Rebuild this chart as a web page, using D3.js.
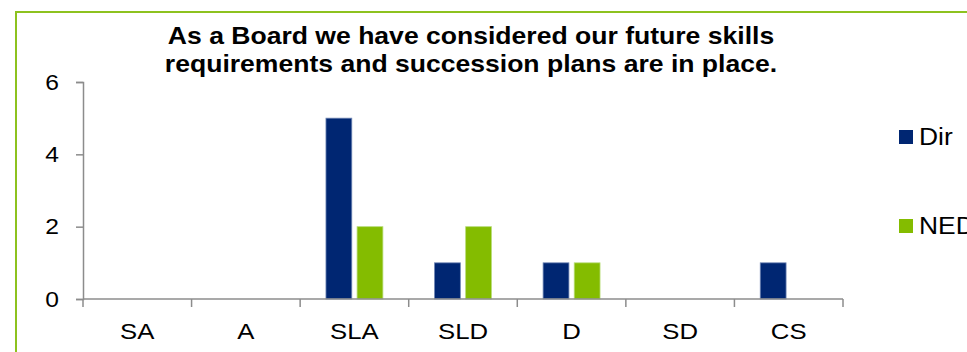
<!DOCTYPE html>
<html>
<head>
<meta charset="utf-8">
<script src="https://cdn.jsdelivr.net/npm/d3@7"></script>
<style>
  html, body { margin: 0; padding: 0; background: #fff; overflow: hidden; }
  svg { display: block; font-family: "Liberation Sans", Arial, sans-serif; }
</style>
</head>
<body>
<svg id="chart" width="967" height="352"></svg>
<script>
const categories = ["SA", "A", "SLA", "SLD", "D", "SD", "CS"];
const seriesNames = ["Dir", "NED"];
const dirValues = [0, 0, 5, 1, 1, 0, 1];
const nedValues = [0, 0, 2, 2, 1, 0, 0];
const yTicks = [0, 2, 4, 6];
const titleLines = ["As a Board we have considered our future skills",
                    "requirements and succession plans are in place."];
const colors = { Dir: "#002672", NED: "#84BC00" };

(function () {
const svg = d3.select("#chart");

// outer chart border
svg.append("rect")
  .attr("x", 16).attr("y", 12)
  .attr("width", 1000).attr("height", 400)
  .attr("fill", "none")
  .attr("stroke", "#8DC21F")
  .attr("stroke-width", 2);

const plotLeft = 83, plotRight = 843, plotTop = 82, plotBottom = 299;
const stretch = 1.12;

const x = d3.scaleBand().domain(categories).range([plotLeft, plotRight]).paddingInner(0).paddingOuter(0);
const xs = d3.scaleBand().domain(seriesNames).range([0, x.bandwidth()]).paddingInner(0.17).paddingOuter(0.83);
const y = d3.scaleLinear().domain([0, 6]).range([plotBottom, plotTop]);

const axisColor = "#8c8c8c";

// Y axis
const yAxis = svg.append("g")
  .attr("transform", `translate(${plotLeft},0)`)
  .call(d3.axisLeft(y).tickValues(yTicks).tickSize(7).tickPadding(17).tickFormat(d3.format("d")));
yAxis.select(".domain").attr("stroke", axisColor).attr("stroke-width", 1.5);
yAxis.selectAll(".tick line").attr("stroke", axisColor).attr("stroke-width", 1.5);
yAxis.selectAll(".tick text")
  .attr("font-size", 22).attr("fill", "#000")
  .attr("font-family", "Liberation Sans, Arial, sans-serif")
  .attr("x", -24 / stretch)
  .attr("transform", `scale(${stretch},1)`);

// bars
const data = categories.map((c, i) => ({ cat: c, Dir: dirValues[i], NED: nedValues[i] }));
const g = svg.append("g");
data.forEach(d => {
  seriesNames.forEach(s => {
    if (d[s] > 0) {
      g.append("rect")
        .attr("x", x(d.cat) + xs(s))
        .attr("y", y(d[s]))
        .attr("width", xs.bandwidth())
        .attr("height", y(0) - y(d[s]))
        .attr("fill", colors[s])
        .attr("stroke", s === "Dir" ? "#6f86b4" : "#b8dc7a")
        .attr("stroke-width", 0.8);
    }
  });
});

// X axis
const xAxisG = svg.append("g").attr("transform", `translate(0,${plotBottom})`);
xAxisG.append("line")
  .attr("x1", plotLeft).attr("x2", plotRight).attr("y1", 0).attr("y2", 0)
  .attr("stroke", axisColor).attr("stroke-width", 1.5);
const boundaries = categories.map(c => x(c)).concat([x(categories[categories.length - 1]) + x.bandwidth()]);
xAxisG.selectAll("line.tick").data(boundaries).enter().append("line")
  .attr("class", "tick")
  .attr("x1", d => d).attr("x2", d => d).attr("y1", 0).attr("y2", 8)
  .attr("stroke", axisColor).attr("stroke-width", 1.5);
xAxisG.selectAll("text").data(categories).enter().append("text")
  .attr("transform", d => `translate(${x(d) + x.bandwidth() / 2},39.5) scale(${stretch},1)`)
  .attr("text-anchor", "middle")
  .attr("font-size", 23)
  .attr("fill", "#000")
  .text(d => d);

// title
const titleG = svg.append("g").attr("transform", "translate(471,44) scale(1.155,1)");
titleG.append("text")
  .attr("text-anchor", "middle")
  .attr("font-size", 23).attr("font-weight", "bold")
  .selectAll("tspan").data(titleLines).enter().append("tspan")
  .attr("x", 0).attr("dy", (d, i) => i === 0 ? 0 : 28)
  .text(d => d);

// legend
const legendY = { Dir: 130, NED: 219 };
seriesNames.forEach(s => {
  svg.append("rect")
    .attr("x", 899).attr("y", legendY[s])
    .attr("width", 14).attr("height", 14)
    .attr("fill", colors[s]);
  svg.append("text")
    .attr("transform", `translate(919,${legendY[s] + 15}) scale(1.1,1)`)
    .attr("font-size", 24)
    .attr("fill", "#000")
    .text(s);
});
})();
</script>
</body>
</html>
